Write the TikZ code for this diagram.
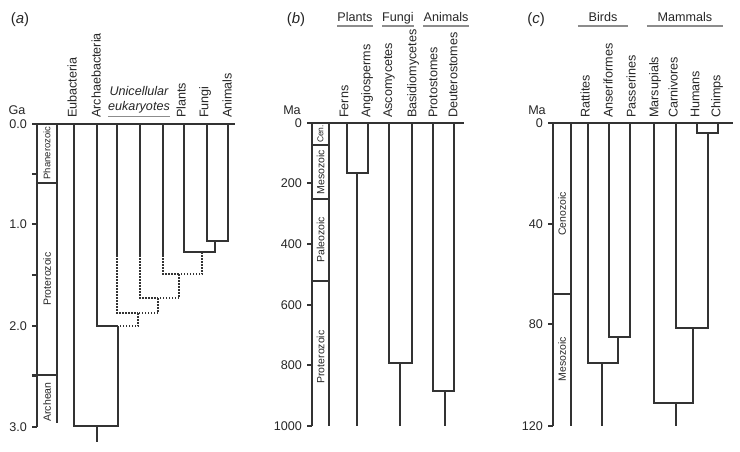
\documentclass[tikz,border=0pt]{standalone}
\usepackage{fontspec}
\setmainfont{Liberation Sans}
\usetikzlibrary{calc}

\begin{document}
\begin{tikzpicture}[x=1pt,y=-1pt]
            \tikzset{
              branch/.style={line width=1.5pt, draw=black!80},
              lost/.style={line width=1.3pt, draw=black!80, dash pattern=on 1.5pt off 1.5pt},
              rule/.style={line width=1.6pt, draw=black!45},
              taxon/.style={rotate=90, anchor=west, inner sep=0pt, text=black!85, font=\fontsize{12.6}{15}\selectfont},
              era/.style={rotate=90, inner sep=0pt, text=black!85, font=\fontsize{10.5}{12}\selectfont},
              scalelab/.style={anchor=east, inner sep=0pt, text=black!85, font=\fontsize{12.6}{15}\selectfont},
              grp/.style={anchor=base, inner sep=0pt, text depth=0pt, text=black!85, font=\fontsize{12.6}{15}\selectfont},
              panel/.style={inner sep=0pt, text=black!85, font=\fontsize{15}{18}\selectfont}
            }
            \useasboundingbox (0,0) rectangle (740,452);

            \node[panel] (pa) at (20,20) {(\textit{a})};
            \node[grp] (ga) at (17,115) {Ga};
            \foreach \v/\y [count=\i] in {0.0/124,1.0/224,2.0/326,3.0/427}
              \node[scalelab] (ga\i) at (27,\y) {\v};
            \foreach \y in {124,174,224,275,326,376,427}
              \draw[branch] (32,\y) -- (37,\y);
            \draw[branch] (37,124) -- (37,427);
            \draw[branch] (32,124) -- (235,124);
            \draw[branch] (57,124) -- (57,423);
            \draw[branch] (37,183) -- (57,183);
            \draw[branch] (32,375) -- (57,375);
            \node[era, font=\fontsize{9.5}{11}\selectfont] (phanA) at (47,153) {Phanerozoic};
            \node[era] (protA) at (47,279) {Proterozoic};
            \node[era] (archA) at (47,402) {Archean};

            \foreach \n/\x in {eub/74,arch/97,uniA/117,uniB/140,uniC/163,plant/184,fung/207,anim/228}
              \coordinate (\n) at (\x,124);
            \foreach \n/\x in {uniAx/117,uniBx/140,uniCx/163}
              \coordinate (\n) at (\x,255);
            \node[taxon] (eubL) at (72,118) {Eubacteria};
            \node[taxon] (archL) at (96,118) {Archaebacteria};
            \node[taxon] (plantL) at (181,118) {Plants};
            \node[taxon] (fungL) at (205,118) {Fungi};
            \node[taxon] (animL) at (227,118) {Animals};
            \node[inner sep=0pt, align=center, text=black!85, font=\fontsize{12.6}{15}\selectfont\itshape] (uniL) at (139,100) {Unicellular\\eukaryotes};
            \draw[rule] ([yshift=-3pt]uniL.south west) -- ([yshift=-3pt]uniL.south east);

            \coordinate (fa) at (215,241);
            \coordinate (pfa) at (202,252);
            \coordinate (eC) at (179,274);
            \coordinate (eB) at (158,298);
            \coordinate (eA) at (138,313);
            \coordinate (ae) at (118,326);
            \coordinate (rootA) at (97,426);
            \coordinate (rootAb) at (97,442);
            \draw[branch] (fung) |- (fa);
            \draw[branch] (anim) |- (fa);
            \draw[branch] (plant) |- (pfa);
            \draw[branch] (fa) |- (pfa);
            \draw[branch] (uniA) -- (uniAx);
            \draw[branch] (uniB) -- (uniBx);
            \draw[branch] (uniC) -- (uniCx);
            \draw[lost] (pfa) |- (eC);
            \draw[lost] (uniCx) |- (eC);
            \draw[lost] (eC) |- (eB);
            \draw[lost] (uniBx) |- (eB);
            \draw[lost] (eB) |- (eA);
            \draw[lost] (uniAx) |- (eA);
            \draw[lost] (eA) |- (ae);
            \draw[branch] (arch) |- (ae);
            \draw[branch] (ae) |- (rootA);
            \draw[branch] (eub) |- (rootA);
            \draw[branch] (rootA) -- (rootAb);

            \node[panel] (pb) at (296,20) {(\textit{b})};
            \node[grp] (plantsG) at (355,22) {Plants};
            \node[grp] (fungiG) at (398,22) {Fungi};
            \node[grp] (animalsG) at (446,22) {Animals};
            \foreach \g in {plantsG,fungiG,animalsG}
              \draw[rule] ([yshift=-4pt]\g.south west) -- ([yshift=-4pt]\g.south east);
            \node[grp] (maB) at (292,115) {Ma};
            \foreach \v/\y in {0/123,200/183,400/244,600/305,800/365,1000/426}{
              \node[scalelab] (mb\v) at (302,\y) {\v};
              \draw[branch] (307,\y) -- (312,\y);
            }
            \draw[branch] (312,123) -- (312,426);
            \draw[branch] (307,123) -- (464,123);
            \draw[branch] (329,123) -- (329,426);
            \foreach \y in {145,199,281}
              \draw[branch] (312,\y) -- (329,\y);
            \node[era, font=\fontsize{8.5}{10}\selectfont] (cenB) at (320.5,134) {Cen.};
            \node[era] (mesB) at (320.5,172) {Mesozoic};
            \node[era] (palB) at (320.5,240) {Paleozoic};
            \node[era] (proB) at (320.5,357) {Proterozoic};

            \foreach \n/\x in {fern/347,angio/368,asco/389,basid/412,proto/433,deut/454}
              \coordinate (\n) at (\x,123);
            \node[taxon] (fernL) at (344,118) {Ferns};
            \node[taxon] (angioL) at (367,118) {Angiosperms};
            \node[taxon] (ascoL) at (389,118) {Ascomycetes};
            \node[taxon] (basidL) at (413,118) {Basidiomycetes};
            \node[taxon] (protoL) at (433,118) {Protostomes};
            \node[taxon] (deutL) at (453,118) {Deuterostomes};
            \coordinate (plB) at (357,173);
            \coordinate (fuB) at (400,363);
            \coordinate (anB) at (445,391);
            \draw[branch] (fern) |- (plB);
            \draw[branch] (angio) |- (plB);
            \draw[branch] (asco) |- (fuB);
            \draw[branch] (basid) |- (fuB);
            \draw[branch] (proto) |- (anB);
            \draw[branch] (deut) |- (anB);
            \draw[branch] (plB) -- (plB |- 0,426);
            \draw[branch] (fuB) -- (fuB |- 0,426);
            \draw[branch] (anB) -- (anB |- 0,426);

            \node[panel] (pc) at (536,20) {(\textit{c})};
            \node[grp, minimum width=50pt] (birdsG) at (603,22) {Birds};
            \node[grp, minimum width=76pt] (mammalsG) at (685,22) {Mammals};
            \foreach \g in {birdsG,mammalsG}
              \draw[rule] ([yshift=-4pt]\g.south west) -- ([yshift=-4pt]\g.south east);
            \node[grp] (maC) at (537,115) {Ma};
            \foreach \v/\y in {0/123,40/224,80/324,120/426}{
              \node[scalelab] (mc\v) at (543,\y) {\v};
              \draw[branch] (548,\y) -- (553,\y);
            }
            \draw[branch] (553,123) -- (553,426);
            \draw[branch] (548,123) -- (733,123);
            \draw[branch] (571,123) -- (571,426);
            \draw[branch] (553,294) -- (571,294);
            \node[era] (cenC) at (562,214) {Cenozoic};
            \node[era] (mesC) at (562,359) {Mesozoic};

            \foreach \n/\x in {ratt/588,anser/609,passer/630,marsup/654,carn/676,human/697,chimp/718}
              \coordinate (\n) at (\x,123);
            \node[taxon] (rattL) at (585,118) {Rattites};
            \node[taxon] (anserL) at (608,118) {Anseriformes};
            \node[taxon] (passerL) at (631,118) {Passerines};
            \node[taxon] (marsupL) at (655,118) {Marsupials};
            \node[taxon] (carnL) at (673,118) {Carnivores};
            \node[taxon] (humanL) at (695,118) {Humans};
            \node[taxon] (chimpL) at (717,118) {Chimps};
            \coordinate (bB) at (618,337);
            \coordinate (bA) at (602,363);
            \coordinate (mC) at (708,133);
            \coordinate (mB) at (693,328);
            \coordinate (mA) at (676,403);
            \draw[branch] (anser) |- (bB);
            \draw[branch] (passer) |- (bB);
            \draw[branch] (bB) |- (bA);
            \draw[branch] (ratt) |- (bA);
            \draw[branch] (bA) -- (bA |- 0,426);
            \draw[branch] (human) |- (mC);
            \draw[branch] (chimp) |- (mC);
            \draw[branch] (mC) |- (mB);
            \draw[branch] (carn) |- (mB);
            \draw[branch] (mB) |- (mA);
            \draw[branch] (marsup) |- (mA);
            \draw[branch] (mA) -- (mA |- 0,426);
\end{tikzpicture}
\end{document}
